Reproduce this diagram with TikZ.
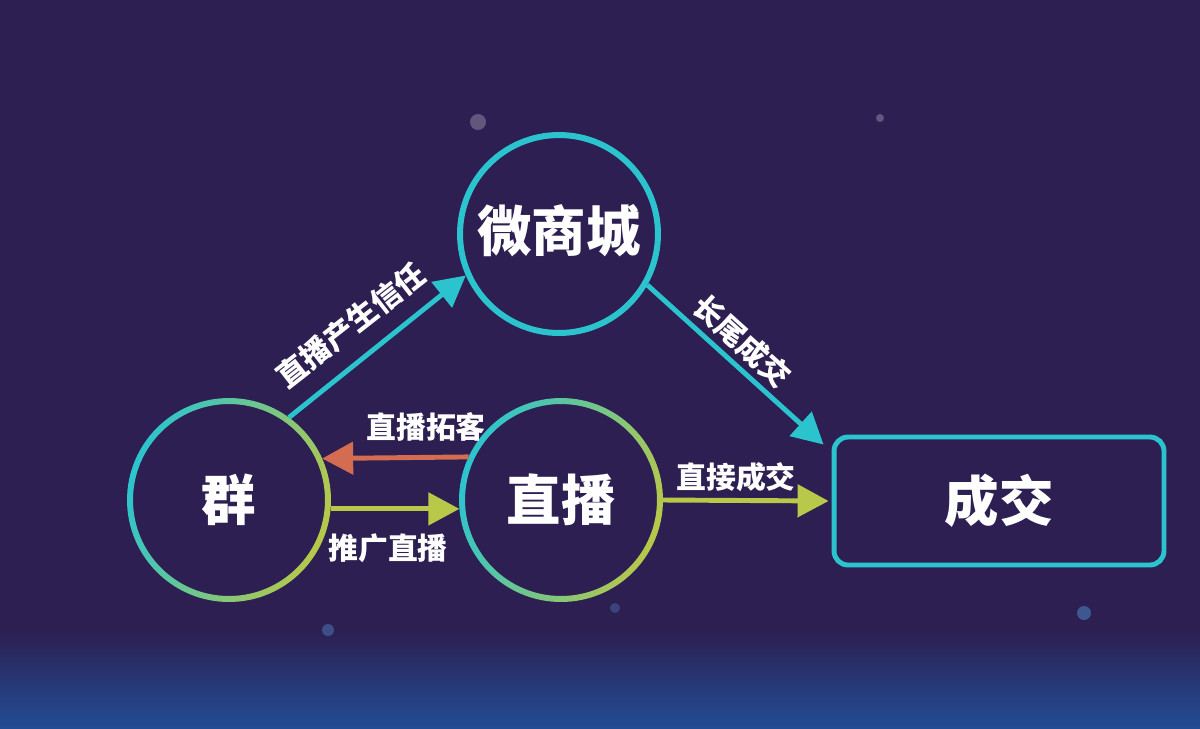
\documentclass[tikz,border=0pt]{standalone}
\usepackage{fontspec}
\newfontfamily\cjk{Noto Sans CJK SC}
\usetikzlibrary{arrows.meta}
\definecolor{bgpurple}{RGB}{45,31,82}
\definecolor{glowblue}{RGB}{30,92,170}
\definecolor{ringcyan}{RGB}{43,196,206}
\definecolor{ringlime}{RGB}{184,200,72}
\definecolor{linkorange}{RGB}{211,108,80}

\begin{document}
\begin{tikzpicture}[x=0.02cm, y=-0.02cm,
  every node/.style={text=white, inner sep=0pt},
  hub/.style={circle, minimum size=4.08cm, outer sep=0pt, font=\cjk\bfseries\fontsize{31}{31}\selectfont},
  goal/.style={rectangle, rounded corners=0.28cm, draw=ringcyan, line width=2.8pt, minimum width=6.6cm, minimum height=2.56cm, font=\cjk\bfseries\fontsize{31}{31}\selectfont},
  tag/.style={font=\cjk\bfseries\fontsize{17}{17}\selectfont},
  link/.style={line width=2.8pt, -{Triangle[length=0.62cm, width=0.64cm]}}]
  % background
  \fill[bgpurple] (0,0) rectangle (1200,728);
  \useasboundingbox (0,0) rectangle (1200,728);
  \shade[top color=bgpurple, bottom color=glowblue!75!bgpurple] (0,630) rectangle (1200,728);
  \fill[white, opacity=0.25] (478,122) circle[radius=0.16cm];
  \fill[white, opacity=0.25] (880,118) circle[radius=0.08cm];
  \fill[glowblue!80!white, opacity=0.6] (1084,613) circle[radius=0.14cm];
  \fill[glowblue!80!white, opacity=0.5] (328,630) circle[radius=0.12cm];
  \fill[glowblue!80!white, opacity=0.4] (615,608) circle[radius=0.1cm];

  \node[hub] (qun) at (229,500) {群};
  \node[hub] (zb) at (561,500) {直播};
  \node[hub] (wsc) at (559,234) {\raisebox{0.24cm}{微商城}};
  \node[goal] (cj) at (999,501) {成交};

  % rings
  \shade[left color=ringcyan, right color=ringlime, shading angle=70, even odd rule]
    (qun.center) circle[radius=2.04cm] circle[radius=1.92cm];
  \shade[left color=ringcyan, right color=ringlime, shading angle=70, even odd rule]
    (zb.center) circle[radius=2.04cm] circle[radius=1.92cm];
  \fill[ringcyan, even odd rule]
    (wsc.center) circle[radius=2.04cm] circle[radius=1.92cm];

  % links
  \draw[link, ringcyan] (qun.54) -- (wsc.204);
  \draw[link, ringcyan] (wsc.330) -- ([shift={(-8,10)}]cj.north west);
  \draw[link, linkorange] (zb.155) -- (qun.24);
  \draw[link, ringlime] (qun.-5) -- (zb.185);
  \draw[link, ringlime] (zb.east) -- ([xshift=-0.06cm]cj.west);

  \node[tag, rotate=38] (trust) at (351,325) {直播产生信任};
  \node[tag, rotate=-42] (tail) at (742,341) {长尾成交};
  \node[tag] (tuoke) at (426,427) {直播拓客};
  \node[tag] (tuiguang) at (388,548) {推广直播};
  \node[tag] (zhijie) at (736,477) {直接成交};
\end{tikzpicture}
\end{document}
